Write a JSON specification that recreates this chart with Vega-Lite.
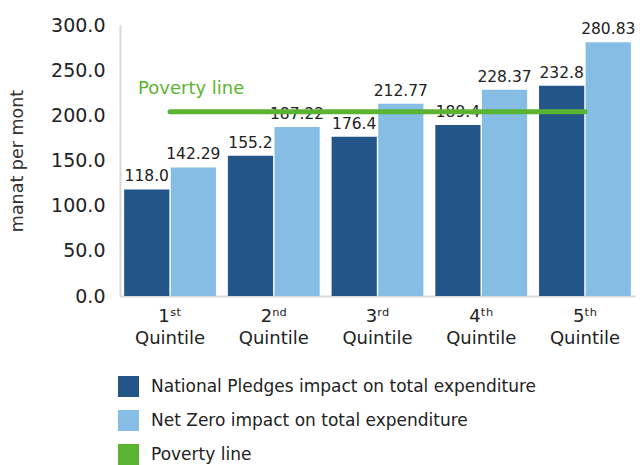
{
  "$schema": "https://vega.github.io/schema/vega-lite/v6.json",
  "width": 515,
  "height": 271,
  "padding": {"left": 8, "top": 16, "right": 4, "bottom": 0},
  "config": {
    "font": "DejaVu Sans",
    "view": {"stroke": null},
    "axis": {"labelColor": "#333333", "titleColor": "#333333"}
  },
  "datasets": {
    "bars": [
      {"quintile": "1ˢᵗ Quintile", "series": "National Pledges impact on total expenditure", "value": 118.0, "label": "118.0"},
      {"quintile": "1ˢᵗ Quintile", "series": "Net Zero impact on total expenditure", "value": 142.29, "label": "142.29"},
      {"quintile": "2ⁿᵈ Quintile", "series": "National Pledges impact on total expenditure", "value": 155.2, "label": "155.2"},
      {"quintile": "2ⁿᵈ Quintile", "series": "Net Zero impact on total expenditure", "value": 187.22, "label": "187.22"},
      {"quintile": "3ʳᵈ Quintile", "series": "National Pledges impact on total expenditure", "value": 176.4, "label": "176.4"},
      {"quintile": "3ʳᵈ Quintile", "series": "Net Zero impact on total expenditure", "value": 212.77, "label": "212.77"},
      {"quintile": "4ᵗʰ Quintile", "series": "National Pledges impact on total expenditure", "value": 189.4, "label": "189.4"},
      {"quintile": "4ᵗʰ Quintile", "series": "Net Zero impact on total expenditure", "value": 228.37, "label": "228.37"},
      {"quintile": "5ᵗʰ Quintile", "series": "National Pledges impact on total expenditure", "value": 232.8, "label": "232.8"},
      {"quintile": "5ᵗʰ Quintile", "series": "Net Zero impact on total expenditure", "value": 280.83, "label": "280.83"}
    ],
    "poverty": [
      {"quintile": "1ˢᵗ Quintile", "value": 204},
      {"quintile": "5ᵗʰ Quintile", "value": 204}
    ],
    "povlabel": [
      {"quintile": "1ˢᵗ Quintile", "value": 229, "label": "Poverty line"}
    ]
  },
  "layer": [
    {
      "data": {"name": "bars"},
      "mark": {"type": "bar"},
      "encoding": {
        "x": {
          "field": "quintile", "type": "nominal",
          "sort": ["1ˢᵗ Quintile", "2ⁿᵈ Quintile", "3ʳᵈ Quintile", "4ᵗʰ Quintile", "5ᵗʰ Quintile"],
          "scale": {"paddingInner": 0.115, "paddingOuter": 0.04},
          "axis": {
            "title": null, "labelAngle": 0, "labelFontSize": 18, "labelLineHeight": 22,
            "labelExpr": "split(datum.label, ' ')", "ticks": false, "labelPadding": 11,
            "domainColor": "#d9d9d9", "domainWidth": 2, "labelColor": "#222222"
          }
        },
        "xOffset": {
          "field": "series", "type": "nominal",
          "scale": {"paddingInner": 0.03}
        },
        "y": {
          "field": "value", "type": "quantitative",
          "scale": {"domain": [0, 300]},
          "axis": {
            "title": "manat per mont", "titleFontSize": 17.5, "titleFontWeight": "normal", "titlePadding": 24,
            "values": [0, 50, 100, 150, 200, 250, 300], "format": ".1f",
            "labelFontSize": 19, "labelPadding": 15, "ticks": false, "grid": false,
            "domainColor": "#d9d9d9", "domainWidth": 2, "labelColor": "#222222"
          }
        },
        "color": {
          "field": "series", "type": "nominal",
          "scale": {
            "domain": ["National Pledges impact on total expenditure", "Net Zero impact on total expenditure", "Poverty line"],
            "range": ["#245589", "#85bde4", "#5bb431"]
          },
          "legend": {
            "title": null, "orient": "none", "legendX": -2, "legendY": 351,
            "direction": "vertical", "symbolType": "square", "symbolSize": 441,
            "symbolStrokeWidth": 0, "labelFontSize": 17, "labelColor": "#222222",
            "rowPadding": 13, "labelOffset": 12, "labelLimit": 500
          }
        }
      }
    },
    {
      "data": {"name": "bars"},
      "mark": {"type": "text", "baseline": "bottom", "dy": -5, "fontSize": 15.5, "color": "#222222"},
      "encoding": {
        "x": {"field": "quintile", "type": "nominal", "sort": ["1ˢᵗ Quintile", "2ⁿᵈ Quintile", "3ʳᵈ Quintile", "4ᵗʰ Quintile", "5ᵗʰ Quintile"]},
        "xOffset": {"field": "series", "type": "nominal"},
        "y": {"field": "value", "type": "quantitative"},
        "text": {"field": "label"}
      }
    },
    {
      "data": {"name": "poverty"},
      "mark": {"type": "line", "color": "#5bb431", "strokeWidth": 5, "strokeCap": "round"},
      "encoding": {
        "x": {"field": "quintile", "type": "nominal", "sort": ["1ˢᵗ Quintile", "2ⁿᵈ Quintile", "3ʳᵈ Quintile", "4ᵗʰ Quintile", "5ᵗʰ Quintile"]},
        "y": {"field": "value", "type": "quantitative"}
      }
    },
    {
      "data": {"name": "povlabel"},
      "mark": {"type": "text", "align": "left", "baseline": "middle", "dx": -32, "fontSize": 18, "color": "#5bb431"},
      "encoding": {
        "x": {"field": "quintile", "type": "nominal", "sort": ["1ˢᵗ Quintile", "2ⁿᵈ Quintile", "3ʳᵈ Quintile", "4ᵗʰ Quintile", "5ᵗʰ Quintile"]},
        "y": {"field": "value", "type": "quantitative"},
        "text": {"field": "label"}
      }
    }
  ]
}
